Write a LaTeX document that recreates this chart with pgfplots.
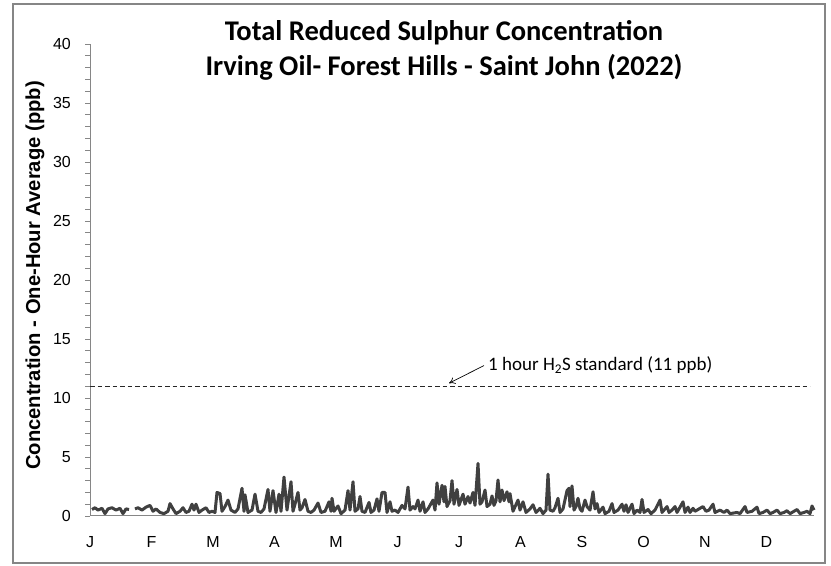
\documentclass[border=0pt]{standalone}
\usepackage{fontspec}
\setmainfont{Liberation Sans}
\newfontfamily\calibri{Carlito}
\usepackage{pgfplots}
\pgfplotsset{compat=1.18}
\usetikzlibrary{arrows.meta}
\definecolor{dataline}{RGB}{64,64,64}
\definecolor{axisgray}{RGB}{134,134,134}
\definecolor{framegray}{RGB}{134,134,134}
\begin{document}
\begin{tikzpicture}[x=1bp,y=1bp]
\path[use as bounding box] (0,0) rectangle (831,566);
\draw[framegray, line width=1.5bp] (13,3) rectangle (825,562);
\node[anchor=base, font=\calibri\bfseries\fontsize{28.5bp}{30bp}\selectfont, inner sep=0] at (444,525) {Total Reduced Sulphur Concentration};
\node[anchor=base, font=\calibri\bfseries\fontsize{28.5bp}{30bp}\selectfont, inner sep=0] at (444,490) {Irving Oil- Forest Hills - Saint John (2022)};
\node[rotate=90, anchor=center, font=\bfseries\fontsize{20.2bp}{22bp}\selectfont, inner sep=0] at (35,290.5) {Concentration - One-Hour Average (ppb)};
\begin{axis}[
  at={(90bp,50bp)}, anchor=south west,
  scale only axis, width=724bp, height=472bp,
  xmin=0, xmax=724, ymin=0, ymax=40,
  axis lines*=left,
  axis line style={axisgray, line width=1bp},
  every tick/.style={axisgray, line width=0.8bp},
  tick align=outside,
  major tick length=5bp, minor tick length=5bp,
  ytick={0,5,...,40}, minor y tick num=4,
  xtick={0,61.5,123,184.5,246,307.5,369,430.5,492,553.5,615,676.5},
  xticklabels={J,F,M,A,M,J,J,A,S,O,N,D},
  major x tick style={draw=none},
  /pgf/number format/assume math mode=true,
  yticklabel style={font=\fontsize{16bp}{18bp}\selectfont, inner sep=0pt, anchor=east, xshift=-14bp},
  xticklabel style={font=\fontsize{16bp}{18bp}\selectfont, inner sep=0pt, anchor=north, text height=11.5bp, text depth=0pt, yshift=-15bp},
  unbounded coords=jump,
  clip=false,
]
\addplot[black!85, line width=0.9bp, dash pattern=on 4.5bp off 3bp] coordinates {(0,11) (720,11)};
\addplot[dataline, line width=3bp, line join=round, mark=none] table {
x y
2 0.55
5 0.7
8 0.5
12 0.65
15 0.2
18 0.6
22 0.7
26 0.5
30 0.65
33 0.2
36 0.6
39 0.55
41 nan
45 0.6
48 0.7
52 0.5
56 0.75
60 0.9
63 0.4
66 0.6
70 0.3
74 0.2
78 0.4
80 1.05
83 0.6
86 0.2
90 0.4
93 0.7
96 0.3
99 0.4
102 1.0
104 0.5
106 1.0
109 0.3
112 0.5
116 0.7
119 0.3
122 0.4
125 0.3
127 2.0
130 1.9
132 0.4
135 0.8
138 1.35
141 0.5
145 0.3
148 0.6
152 2.35
154 0.4
155 1.8
158 0.3
162 0.5
165 1.85
168 0.4
171 0.3
174 0.6
178 2.25
180 0.4
183 2.15
186 0.3
189 1.85
191 0.4
194 3.3
197 0.5
201 2.9
203 0.4
205 1.0
208 2.0
210 0.5
212 0.7
215 1.4
218 0.4
221 0.3
224 0.5
228 1.1
231 0.3
235 0.4
239 1.2
241 0.4
242 1.5
244 0.4
248 0.85
251 0.2
255 0.5
258 2.15
260 0.5
263 2.9
265 0.4
268 0.6
270 1.65
272 0.4
275 0.3
279 1.15
281 0.3
284 0.5
287 1.45
289 0.4
292 2.0
295 2.0
297 0.3
300 1.2
302 0.4
305 0.5
308 0.3
312 0.9
315 0.6
318 2.45
320 0.5
323 0.8
325 0.6
328 1.35
330 0.4
333 1.2
335 0.3
338 0.6
343 1.35
345 0.5
347 2.8
349 1.0
352 2.6
354 1.2
355 2.5
357 0.8
360 1.3
362 3.0
364 1.0
367 2.25
369 0.9
373 1.85
375 1.0
378 1.65
380 1.1
383 2.0
385 0.9
388 4.45
390 1.0
392 1.2
395 2.2
397 0.8
400 1.0
402 1.7
404 0.9
406 1.3
408 3.05
410 1.2
412 2.2
414 1.3
417 2.05
419 1.2
420 1.9
423 0.4
428 1.35
430 0.5
433 1.2
436 0.3
440 0.6
443 0.95
446 0.3
450 0.65
453 0.2
456 0.5
458 3.55
460 0.5
463 0.4
465 0.7
468 1.5
470 0.3
473 0.6
477 2.15
479 2.35
480 0.8
482 2.55
484 0.5
486 0.8
488 1.5
490 0.6
492 0.4
495 1.35
497 0.8
500 0.5
503 2.05
505 0.6
507 1.05
509 0.3
513 0.75
515 0.2
519 0.4
522 1.05
524 0.3
528 0.5
532 1.0
534 0.4
536 0.95
538 0.3
542 1.0
544 0.2
547 0.5
550 0.3
552 1.4
554 0.3
558 0.55
561 0.2
565 0.5
570 1.35
572 0.3
577 0.8
579 0.3
582 0.5
585 0.8
587 0.3
593 1.2
595 0.3
598 0.75
600 0.3
603 0.65
605 0.4
609 0.6
613 0.8
616 0.4
619 0.5
623 1.0
625 0.3
630 0.5
634 0.3
637 0.5
640 0.2
647 0.3
650 0.2
655 0.8
657 0.3
662 0.4
667 0.75
669 0.2
673 0.3
677 0.5
680 0.2
683 0.3
687 0.5
690 0.2
694 0.3
697 0.45
700 0.2
704 0.4
707 0.55
710 0.2
714 0.3
717 0.4
720 0.2
722 0.85
724 0.5
};
\draw[black, line width=0.7bp, -{To[length=6bp,width=7bp]}] (axis cs:394,12.75) -- (axis cs:359,11.25);
\node[anchor=base west, font=\calibri\fontsize{19bp}{22bp}\selectfont, inner sep=0] at (axis cs:398,12.37) {1 hour H\textsubscript{2}S standard (11 ppb)};
\end{axis}
\end{tikzpicture}
\end{document}
